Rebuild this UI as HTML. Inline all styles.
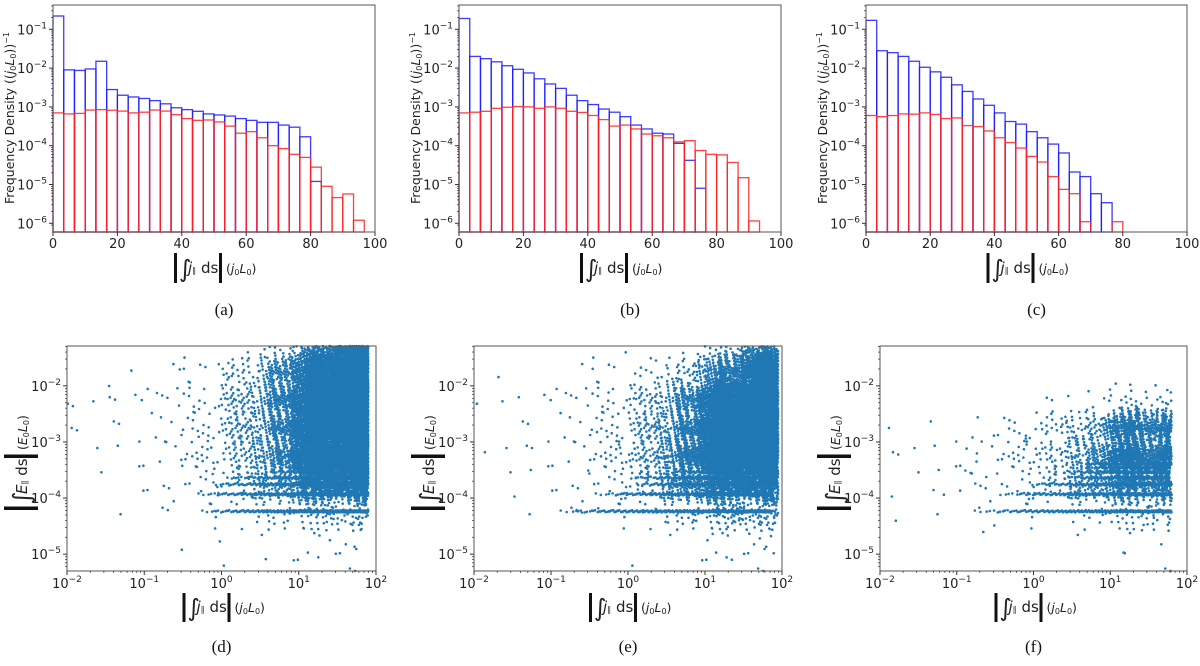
<!DOCTYPE html>
<html><head><meta charset="utf-8"><style>
body{margin:0;background:#fff}
svg{display:block}
text{font-family:"DejaVu Sans","Liberation Sans",sans-serif;fill:#222}
.cap{font-family:"Liberation Serif",serif;font-size:17px;fill:#111}
</style></head><body>
<svg id="fig" width="1200" height="666" viewBox="0 0 1200 666" xmlns="http://www.w3.org/2000/svg"></svg>
<script>
// ---------- Histogram data (bin width 100/30) ----------
const binWidth = 100/30;
const histBlueA = [0.22,9e-3,8.7e-3,9.5e-3,1.5e-2,2.8e-3,2e-3,1.8e-3,1.65e-3,1.45e-3,1.2e-3,9.5e-4,8.5e-4,7.7e-4,6.6e-4,6.2e-4,5.8e-4,5e-4,4.5e-4,4e-4,4e-4,3.4e-4,3e-4,1.7e-4,1.2e-5];
const histRedA = [7e-4,6.6e-4,6.8e-4,8.3e-4,8.5e-4,8.2e-4,7.8e-4,7e-4,7.3e-4,8.3e-4,7.8e-4,6.3e-4,5e-4,4.5e-4,4.6e-4,4.1e-4,3.2e-4,2.1e-4,2.3e-4,1.6e-4,1e-4,8.4e-5,6e-5,5e-5,2.8e-5,9e-6,4.6e-6,5.7e-6,1.2e-6];
const histBlueB = [0.19,2e-2,1.75e-2,1.45e-2,1.15e-2,9.3e-3,7.5e-3,5.3e-3,3.9e-3,3e-3,2e-3,1.45e-3,1.15e-3,8.8e-4,7.3e-4,5.6e-4,3.4e-4,2.7e-4,2.1e-4,2e-4,1.15e-4,4.2e-5,8e-6];
const histRedB = [7e-4,7.3e-4,7.7e-4,9.2e-4,9.8e-4,1.02e-3,1e-3,9.2e-4,1e-3,9.2e-4,7.7e-4,7.2e-4,6e-4,4.7e-4,3.2e-4,3.4e-4,2.7e-4,2e-4,1.8e-4,1.6e-4,1.25e-4,1.35e-4,7.5e-5,6e-5,5.8e-5,3.7e-5,1.5e-5,1.15e-6];
const histBlueC = [0.17,2.8e-2,2.5e-2,2e-2,1.5e-2,1.05e-2,8e-3,5.8e-3,3.7e-3,2.5e-3,1.6e-3,1.1e-3,7e-4,4.2e-4,3.6e-4,2.3e-4,1.6e-4,1.1e-4,6.5e-5,2.1e-5,1.6e-5,5.8e-6,3.4e-6];
const histRedC = [6e-4,5.6e-4,6e-4,6.6e-4,6.5e-4,7e-4,6.4e-4,5e-4,5.2e-4,3.3e-4,3.1e-4,2.4e-4,1.6e-4,1.2e-4,8.7e-5,5.3e-5,3.8e-5,1.6e-5,7.5e-6,5.8e-6,1.1e-6,0,0,1.1e-6];
const histXTicks = [0,20,40,60,80,100];
const histYTicks = [-6,-5,-4,-3,-2,-1];

// ---------- Scatter data: density counts per cell (rows = log10 y bands top->bottom, cols = log10 x bands) ----------
const scatXEdges = [-2,-1.5,-1,-0.5,0,0.5,1,1.5,2];
const scatYEdges = [-1,-1.5,-2,-2.5,-3,-3.5,-4,-4.5,-5,-5.5];
const densD = [
 [0,0,0,0,0,5,110,500],
 [0,1,3,6,35,130,850,1500],
 [4,3,6,14,55,200,1300,1800],
 [3,3,5,14,55,200,1300,1800],
 [1,2,5,16,50,200,1100,1400],
 [0,1,4,8,25,90,400,450],
 [0,1,2,3,6,20,50,50],
 [0,0,0,0,1,2,6,5],
 [0,0,0,1,1,1,3,2]];
const densE = [
 [0,0,0,0,0,0,15,110],
 [2,0,3,5,12,35,250,800],
 [2,2,6,15,40,170,1000,1400],
 [1,3,5,15,55,230,1300,1500],
 [2,3,5,15,65,280,1200,1200],
 [1,2,5,10,30,150,450,450],
 [0,1,3,5,8,25,70,70],
 [0,0,0,0,0,2,6,8],
 [0,0,0,0,1,0,4,4]];
const densF = [
 [0,0,0,0,0,0,0,0],
 [0,0,0,0,0,0,0,0],
 [0,0,0,0,2,5,20,12],
 [2,2,3,8,25,70,350,160],
 [3,2,8,15,40,120,500,220],
 [1,3,6,10,30,90,250,130],
 [1,1,1,3,4,10,40,25],
 [0,0,1,1,0,1,3,1],
 [0,0,0,0,0,0,2,2]];
const scatXMax = [1.9, 1.95, 1.8];
// quantized bands: level, x start, x end, point count
const bandLevelD = [5.8e-5,1.17e-4,1.75e-4,2.3e-4,2.9e-4,3.5e-4];
const bandStartD = [0.45,0.4,0.6,1,3,5];
const bandEndD = [80,80,80,80,80,80];
const bandCountD = [300,260,220,190,150,120];
const bandLevelE = [5.8e-5,1.17e-4,1.75e-4,2.3e-4,2.9e-4,3.5e-4];
const bandStartE = [0.1,0.3,1,0.8,3,8];
const bandEndE = [75,75,75,75,75,75];
const bandCountE = [300,260,220,190,150,120];
const bandLevelF = [5.8e-5,1.17e-4,1.75e-4,2.3e-4,2.9e-4,3.5e-4,4.1e-4];
const bandStartF = [0.13,0.25,0.7,2,2,3,3];
const bandEndF = [75,65,70,60,60,60,60];
const bandCountF = [240,210,180,140,120,100,90];
const scatXTicks = [-2,-1,0,1,2];
const scatYTicks = [-5,-4,-3,-2];

const NS='http://www.w3.org/2000/svg';
const svg=document.getElementById('fig');
function mk(tag,attrs,parent){const e=document.createElementNS(NS,tag);for(const k in attrs)e.setAttribute(k,attrs[k]);(parent||svg).appendChild(e);return e;}
function txt(parent,x,y,html,size,anchor){const t=mk('text',{x:x,y:y,'font-size':size,'text-anchor':anchor||'middle'},parent);t.innerHTML=html;return t;}
function pow10(e){return '10<tspan dy="-6" font-size="9">\u2212'+Math.abs(e)+'</tspan>';}
function pow10s(e){return e<0?pow10(e):'10<tspan dy="-6" font-size="9">'+e+'</tspan>';}

// ---------- Histograms ----------
const histPanels=[
 {x0:53,x1:375,blue:histBlueA,red:histRedA,name:'a'},
 {x0:459,x1:781,blue:histBlueB,red:histRedB,name:'b'},
 {x0:866,x1:1187,blue:histBlueC,red:histRedC,name:'c'}];
const hTop=5,hBot=232,hYmin=-6.224,hYmax=-0.374;
histPanels.forEach(p=>{
  const g=mk('g',{});
  
  
  const X=v=>p.x0+(v/100)*(p.x1-p.x0);
  const Y=v=>hBot-(Math.log10(v)-hYmin)/(hYmax-hYmin)*(hBot-hTop);
  const drawSeries=(arr,color,nm)=>{
    const sg=mk('g',{},g);
    
    
    arr.forEach((v,i)=>{
      if(v<=0)return;
      const x=X(i*binWidth),x2=X((i+1)*binWidth),y=Math.max(Y(v),hTop);
      const r=mk('rect',{x:x,y:y,width:x2-x,height:hBot-y,fill:'none',stroke:color,'stroke-width':1.3,'stroke-opacity':0.85},sg);
      
      
    });
  };
  drawSeries(p.blue,'#1a1aff','blue-series');
  drawSeries(p.red,'#ff2020','red-series');
  const fr=mk('rect',{x:p.x0,y:hTop,width:p.x1-p.x0,height:hBot-hTop,fill:'none',stroke:'#555','stroke-width':1},g);
  
  
  histXTicks.forEach(t=>{mk('line',{x1:X(t),x2:X(t),y1:hBot,y2:hBot+4,stroke:'#333'},g);txt(g,X(t),hBot+16,String(t),13);});
  histYTicks.forEach(t=>{
    const y=Y(Math.pow(10,t));mk('line',{x1:p.x0-4,x2:p.x0,y1:y,y2:y,stroke:'#333'},g);
    txt(g,p.x0-6,y+5,pow10(t),13,'end');
    for(let m=2;m<10;m++){const ym=Y(m*Math.pow(10,t));if(ym>=hTop&&ym<=hBot)mk('line',{x1:p.x0-2,x2:p.x0,y1:ym,y2:ym,stroke:'#333','stroke-width':0.7},g);}
  });
  const ym=Y(Math.pow(10,-7)*9);if(ym<=hBot)mk('line',{x1:p.x0-2,x2:p.x0,y1:ym,y2:ym,stroke:'#333','stroke-width':0.7},g);
  const yl=txt(g,0,0,'Frequency Density ((<tspan font-style="italic">j</tspan><tspan font-size="8" dy="2">0</tspan><tspan dy="-2" font-style="italic">L</tspan><tspan font-size="8" dy="2">0</tspan><tspan dy="-2">))</tspan><tspan font-size="8" dy="-5">\u22121</tspan>',12.5);
  yl.setAttribute('transform','translate('+(p.x0-39)+',118) rotate(-90)');
  
  
  const cx=(p.x0+p.x1)/2;
  const xl=mk('g',{},g);
  
  
  mk('rect',{x:cx-40,y:253,width:3,height:30,fill:'#111'},xl);
  mk('rect',{x:cx+5,y:253,width:3,height:30,fill:'#111'},xl);
  txt(xl,cx-35,277,'\u222B',24,'start');
  txt(xl,cx-26,273,'<tspan font-style="italic">j</tspan><tspan font-size="8">\u2225</tspan> ds',15,'start');
  txt(xl,cx+12,273,'(<tspan font-style="italic">j</tspan><tspan font-size="8" dy="2">0</tspan><tspan dy="-2" font-style="italic">L</tspan><tspan font-size="8" dy="2">0</tspan><tspan dy="-2">)</tspan>',12.5,'start');
  const cap=txt(svg,cx+10,315,'('+p.name+')',17);cap.setAttribute('class','cap');
  
  
});

// ---------- Scatter panels ----------
const scatPanels=[
 {x0:67,x1:376,dens:densD,lv:bandLevelD,bs:bandStartD,be:bandEndD,bc:bandCountD,xm:scatXMax[0],name:'d'},
 {x0:474,x1:782,dens:densE,lv:bandLevelE,bs:bandStartE,be:bandEndE,bc:bandCountE,xm:scatXMax[1],name:'e'},
 {x0:880,x1:1187,dens:densF,lv:bandLevelF,bs:bandStartF,be:bandEndF,bc:bandCountF,xm:scatXMax[2],name:'f'}];
const sTop=346,sBot=571,sYmin=-5.3,sYmax=-1.29;
const frac=v=>v-Math.floor(v);
scatPanels.forEach((p,pi)=>{
  const g=mk('g',{});
  
  
  const X=lx=>p.x0+(lx+2)/4*(p.x1-p.x0);
  const Y=ly=>sBot-(ly-sYmin)/(sYmax-sYmin)*(sBot-sTop);
  const pts=mk('g',{fill:'#1f77b4'},g);
  
  
  let path='';
  const dot=(lx,ly)=>{
    if(lx>p.xm)lx=2*p.xm-lx;
    if(ly>sYmax)ly=2*sYmax-ly;
    if(ly>sYmax||ly<sYmin||lx<-2||lx>2)return;
    const x=X(lx),y=Y(ly);path+='M'+(x-1.3).toFixed(1)+' '+y.toFixed(1)+'a1.3 1.3 0 1 0 2.6 0a1.3 1.3 0 1 0 -2.6 0';};
  p.dens.forEach((row,ri)=>{
    row.forEach((n,ci)=>{
      const xc=(scatXEdges[ci]+scatXEdges[ci+1])/2;
      const yc=(scatYEdges[ri]+scatYEdges[ri+1])/2;
      for(let k=0;k<n;k++){
        const u1=frac(0.5+(k+1)*0.7548776662+ri*0.13+pi*0.07),v1=frac(0.5+(k+1)*0.5698402910+ci*0.29);
        const u2=frac(0.3+(k+1)*0.4142135624+ci*0.11),v2=frac(0.2+(k+1)*0.3247179572+ri*0.17);
        dot(xc+(u1+u2-1)*0.4, yc+(v1+v2-1)*0.4);
      }
    });
  });
  p.lv.forEach((lev,bi)=>{
    const la=Math.log10(p.bs[bi]),lb=Math.log10(p.be[bi]),n=p.bc[bi];
    for(let k=0;k<n;k++){
      const t=Math.sqrt(frac((k+1)*0.6180339887));
      dot(la+t*(lb-la),Math.log10(lev)+(frac((k+1)*0.7548776662)-0.5)*0.04);
    }
  });
  mk('path',{d:path},pts);
  const fr=mk('rect',{x:p.x0,y:sTop,width:p.x1-p.x0,height:sBot-sTop,fill:'none',stroke:'#555','stroke-width':1},g);
  
  
  scatXTicks.forEach(t=>{
    mk('line',{x1:X(t),x2:X(t),y1:sBot,y2:sBot+4,stroke:'#333'},g);
    txt(g,X(t),sBot+17,pow10s(t),13);
    if(t<2)for(let m=2;m<10;m++){const xm=X(t+Math.log10(m));mk('line',{x1:xm,x2:xm,y1:sBot,y2:sBot+2,stroke:'#333','stroke-width':0.7},g);}
  });
  scatYTicks.forEach(t=>{
    const y=Y(t);mk('line',{x1:p.x0-4,x2:p.x0,y1:y,y2:y,stroke:'#333'},g);
    txt(g,p.x0-6,y+5,pow10(t),13,'end');
  });
  for(let d=-6;d<=-2;d++)for(let m=2;m<10;m++){const ly=d+Math.log10(m);if(ly>=sYmin&&ly<=sYmax){const y=Y(ly);mk('line',{x1:p.x0-2,x2:p.x0,y1:y,y2:y,stroke:'#333','stroke-width':0.7},g);}}
  const cx=(p.x0+p.x1)/2;
  const xl=mk('g',{},g);
  
  
  mk('rect',{x:cx-39,y:593,width:3,height:29,fill:'#111'},xl);
  mk('rect',{x:cx+6,y:593,width:3,height:29,fill:'#111'},xl);
  txt(xl,cx-34,616,'\u222B',24,'start');
  txt(xl,cx-25,612,'<tspan font-style="italic">j</tspan><tspan font-size="8">\u2225</tspan> ds',15,'start');
  txt(xl,cx+13,612,'(<tspan font-style="italic">j</tspan><tspan font-size="8" dy="2">0</tspan><tspan dy="-2" font-style="italic">L</tspan><tspan font-size="8" dy="2">0</tspan><tspan dy="-2">)</tspan>',12.5,'start');
  const yl=mk('g',{transform:'translate('+(p.x0-50)+',458) rotate(-90)'},g);
  
  
  mk('rect',{x:-52,y:-13,width:3.5,height:34,fill:'#111'},yl);
  mk('rect',{x:0,y:-13,width:3.5,height:34,fill:'#111'},yl);
  txt(yl,-46,13,'\u222B',24,'start');
  txt(yl,-36,10,'<tspan font-style="italic">E</tspan><tspan font-size="8">\u2225</tspan> ds',15,'start');
  txt(yl,8,10,'(<tspan font-style="italic">E</tspan><tspan font-size="8" dy="2">0</tspan><tspan dy="-2" font-style="italic">L</tspan><tspan font-size="8" dy="2">0</tspan><tspan dy="-2">)</tspan>',12.5,'start');
  const cap=txt(svg,cx,652,'('+p.name+')',17);cap.setAttribute('class','cap');
  
  
});
</script>
</body></html>
